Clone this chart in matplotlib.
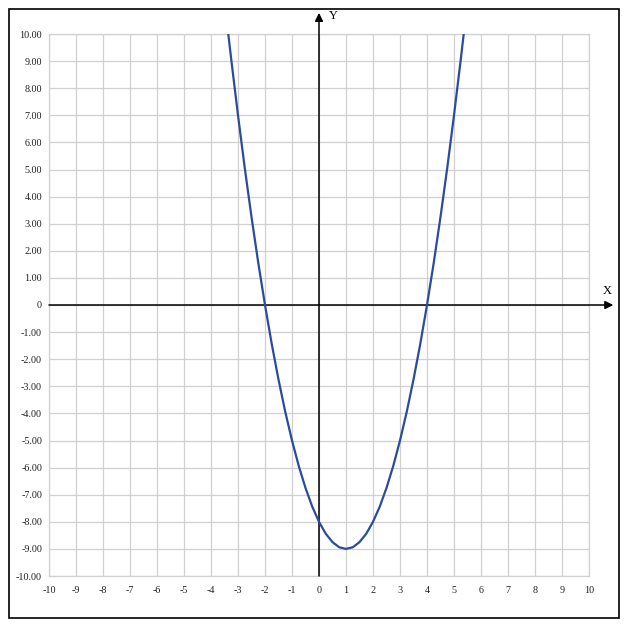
import matplotlib.pyplot as plt
from matplotlib.patches import Rectangle

# points
X_VALUES = [-3.36, -3.25, -3.0, -2.75, -2.5, -2.25, -2.0, -1.75, -1.5, -1.25,
            -1.0, -0.75, -0.5, -0.25, 0.0, 0.25, 0.5, 0.75, 1.0, 1.25, 1.5,
            1.75, 2.0, 2.25, 2.5, 2.75, 3.0, 3.25, 3.5, 3.75, 4.0, 4.25, 4.5,
            4.75, 5.0, 5.25, 5.36]
Y_VALUES = [10.0, 9.06, 7.0, 5.06, 3.25, 1.56, 0.0, -1.44, -2.75, -3.94,
            -5.0, -5.94, -6.75, -7.44, -8.0, -8.44, -8.75, -8.94, -9.0, -8.94,
            -8.75, -8.44, -8.0, -7.44, -6.75, -5.94, -5.0, -3.94, -2.75, -1.44,
            0.0, 1.56, 3.25, 5.06, 7.0, 9.06, 10.0]

X_TICKS = list(range(-10, 11))
Y_TICKS = list(range(-10, 11))
Y_TICK_LABELS = ["0" if v == 0 else f"{v:.2f}" for v in Y_TICKS]

plt.rcParams['font.family'] = ['Liberation Serif', 'DejaVu Serif']

fig = plt.figure(figsize=(6.27, 6.30), dpi=100)
fig.patches.append(Rectangle((9 / 627, 12 / 630), 610 / 627, 609 / 630,
                             transform=fig.transFigure, fill=False,
                             edgecolor='black', linewidth=1.2))

ax = fig.add_axes([49 / 627, 54 / 630, 540 / 627, 542 / 630])
ax.set_xlim(-10, 10)
ax.set_ylim(-10, 10)
ax.set_xticks(X_TICKS)
ax.set_yticks(Y_TICKS)
ax.set_xticklabels([str(v) for v in X_TICKS])
ax.set_yticklabels(Y_TICK_LABELS)
ax.tick_params(length=0, labelsize=7.3, colors='#222222')
ax.tick_params(axis='x', pad=7)
ax.tick_params(axis='y', pad=5)
ax.grid(color='#d0d0d0', linewidth=0.9)
ax.set_axisbelow(True)
for s in ax.spines.values():
    s.set_color('#d0d0d0')
    s.set_linewidth(0.9)

# axes with arrows
ax.annotate("", xy=(10.9, 0), xytext=(-10, 0), annotation_clip=False,
            arrowprops=dict(arrowstyle='-|>', color='black', lw=1.1,
                            mutation_scale=12, shrinkA=0, shrinkB=0))
ax.annotate("", xy=(0, 10.78), xytext=(0, -10), annotation_clip=False,
            arrowprops=dict(arrowstyle='-|>', color='black', lw=1.1,
                            mutation_scale=12, shrinkA=0, shrinkB=0))
ax.text(0.52, 10.66, "Y", fontsize=9, ha='center', va='center', clip_on=False)
ax.text(10.67, 0.52, "X", fontsize=9, ha='center', va='center', clip_on=False)

ax.plot(X_VALUES, Y_VALUES, color='#2b4c9e', linewidth=1.6, zorder=5)

fig.savefig("out.png", dpi=100)
